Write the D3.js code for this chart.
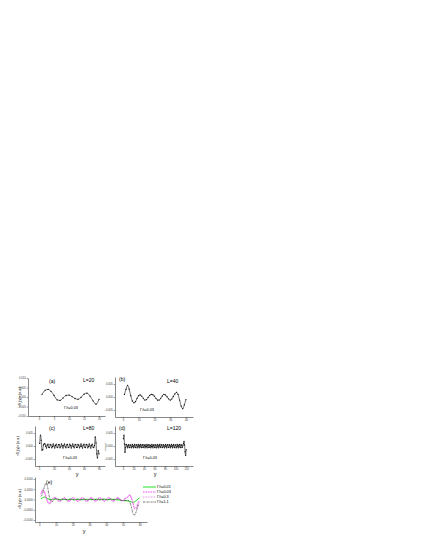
<!DOCTYPE html>
<html>
<head>
<meta charset="utf-8">
<script src="https://cdn.jsdelivr.net/npm/d3@7"></script>
<style>
  body { margin: 0; background: #fff; }
  svg { display: block; font-family: "Liberation Sans", Arial, sans-serif; }
</style>
</head>
<body>
<svg width="436" height="545"></svg>
<script>
// sites across the strip width, one array per strip width L
const sitesA = d3.range(1, 21);
const sitesB = d3.range(1, 41);
const sitesC = d3.range(1, 81);
const sitesD = d3.range(1, 121);
const sitesE = d3.range(1, 61);

// <S_z(y)>
const valuesA = [0.0014, 0.0035, 0.004, 0.003, 0.0008, -0.0015, -0.0018, -0.0005, 0.0008, 0.001,
  0.0002, -0.0008, -0.0012, -0.0002, 0.0015, 0.002, 0.0005, -0.002, -0.0038, -0.0012];

const valuesB = [0.001, 0.003, 0.0045, 0.003, 0.0005, -0.0015, -0.0022, -0.0018, -0.0005, 0.0005,
  0.0008, 0.0003, -0.0005, -0.0012, -0.001, -0.0002, 0.0006, 0.001, 0.0009, 0.0003,
  -0.0005, -0.0012, -0.0012, -0.0005, 0.0004, 0.001, 0.0008, 0.0001, -0.0007, -0.0012,
  -0.0008, 0.0002, 0.0012, 0.0018, 0.001, -0.0012, -0.0035, -0.0045, -0.003, -0.001];

const valuesC = [0.001, 0.0042, 0.0022, -0.0016, -0.0014, 0.0004, 0.0009,
  0.0008, -0.0001, -0.0008, 0.0003, 0.0007, -0.0005, -0.0006, 0.0006, 0.0004, -0.0007,
  -0.0002, 0.0008, 0, -0.0008, 0.0002, 0.0007, -0.0004, -0.0006, 0.0005, 0.0005,
  -0.0007, -0.0003, 0.0008, 0.0001, -0.0008, 0.0001, 0.0008, -0.0003, -0.0007, 0.0004,
  0.0006, -0.0006, -0.0004, 0.0007, 0.0002, -0.0008, 0, 0.0008, -0.0002, -0.0007,
  0.0004, 0.0006, -0.0005, -0.0005, 0.0006, 0.0003, -0.0007, -0.0001, 0.0008, -0.0001,
  -0.0008, 0.0003, 0.0007, -0.0004, -0.0006, 0.0006, 0.0004, -0.0007, -0.0002, 0.0008,
  0, -0.0008, 0.0002, 0.0007, -0.0004, -0.0006,
  0.0002, 0.0035, 0.0012, -0.003, -0.0046, -0.0018, -0.003];

const valuesD = [0.0028, 0.0042, 0.0008, -0.0024, -0.0006, 0.0006,
  0.0005, -0.0002, -0.0007, 0.0002, 0.0005, -0.0005, -0.0006, 0.0004, 0.0003, -0.0007,
  -0.0003, 0.0006, -0.0001, -0.0007, 0.0001, 0.0006, -0.0004, -0.0006, 0.0004, 0.0004,
  -0.0007, -0.0003, 0.0006, 0, -0.0007, 0.0001, 0.0006, -0.0003, -0.0006, 0.0003,
  0.0005, -0.0006, -0.0004, 0.0005, 0.0001, -0.0007, -0.0001, 0.0006, -0.0002, -0.0007,
  0.0003, 0.0005, -0.0005, -0.0005, 0.0004, 0.0002, -0.0007, -0.0002, 0.0006, -0.0001,
  -0.0007, 0.0002, 0.0005, -0.0004, -0.0006, 0.0004, 0.0003, -0.0007, -0.0003, 0.0006,
  0, -0.0007, 0.0001, 0.0006, -0.0003, -0.0006, 0.0004, 0.0004, -0.0006, -0.0004,
  0.0005, 0.0001, -0.0007, -0.0001, 0.0006, -0.0002, -0.0007, 0.0003, 0.0005, -0.0005,
  -0.0005, 0.0005, 0.0002, -0.0007, -0.0002, 0.0006, -0.0001, -0.0007, 0.0002, 0.0006,
  -0.0004, -0.0006, 0.0004, 0.0003, -0.0007, -0.0003, 0.0006, 0, -0.0007, 0.0001,
  0.0006, -0.0003, -0.0006, 0.0004, 0.0004, -0.0006, -0.0004,
  0.0003, 0.001, 0.0018, 0.0004, -0.0022, -0.0036, -0.0014];

// panel (e): four disorder strengths, L = 60
const seriesNames = ["Γ/t=0.01", "Γ/t=0.03", "Γ/t=0.3", "Γ/t=1.1"];

const valuesE001 = [0.0004, 0.0009, 0.0012, 0.0009, 0.0004, 0.0001, 0, 0.0001, 0.0002, 0.0001,
  -0.0001, -0.0001, 0.0001, 0.0001, 0, -0.0001, 0, 0.0001, 0.0001, 0,
  -0.0001, 0, 0.0001, 0.0001, 0, -0.0001, 0, 0.0001, 0.0001, 0,
  -0.0001, 0, 0.0001, 0.0001, 0, -0.0001, 0, 0.0001, 0.0001, 0,
  -0.0001, 0, 0.0001, 0.0001, 0, -0.0001, -0.0002, -0.0003, -0.0004, -0.0005,
  -0.0005, -0.0006, -0.0007, -0.0009, -0.0012, -0.0014, -0.0011, -0.0005, 0.0002, 0.0008];

const valuesE003 = [0.0025, 0.0046, 0.004, 0.0014, -0.001, -0.0018, -0.0009, 0.0004, 0.001, 0.0007,
  -0.0003, -0.0009, -0.0004, 0.0006, 0.0009, 0.0002, -0.0007, -0.0008, 0.0001, 0.0009,
  0.0006, -0.0004, -0.0009, -0.0003, 0.0007, 0.0008, -0.0001, -0.0009, -0.0006, 0.0004,
  0.0009, 0.0003, -0.0007, -0.0008, 0.0001, 0.0009, 0.0005, -0.0005, -0.0009, -0.0002,
  0.0008, 0.0007, -0.0002, -0.0009, -0.0005, 0.0005, 0.0009, 0.0002, -0.0006, -0.0006,
  0.0002, 0.0008, 0.0012, 0.0021, 0.0008, -0.002, -0.0046, -0.0042, -0.0022, -0.001];

const valuesE03 = [0.003, 0.0048, 0.0034, 0.0008, -0.0013, -0.0022, -0.0012, 0.0002, 0.0009, 0.0006,
  -0.0002, -0.0008, -0.0005, 0.0004, 0.0008, 0.0003, -0.0006, -0.0008, 0, 0.0008,
  0.0006, -0.0003, -0.0008, -0.0004, 0.0006, 0.0008, 0, -0.0008, -0.0006, 0.0003,
  0.0008, 0.0004, -0.0006, -0.0008, 0, 0.0008, 0.0005, -0.0004, -0.0008, -0.0002,
  0.0007, 0.0007, -0.0001, -0.0008, -0.0005, 0.0004, 0.0008, 0.0003, -0.0005, -0.0005,
  0.0003, 0.0009, 0.0014, 0.0024, 0.001, -0.0016, -0.004, -0.0039, -0.0016, -0.0006];

const valuesE11 = [0.0015, 0.003, 0.0062, 0.008, 0.0058, 0.0012, -0.001, -0.0009, 0.0001, 0.0005,
  0.0003, -0.0001, -0.0002, 0.0001, 0.0002, 0, -0.0002, 0.0001, 0.0002, -0.0001,
  -0.0002, 0.0001, 0.0002, 0, -0.0002, 0.0001, 0.0002, -0.0001, -0.0002, 0.0001,
  0.0002, 0, -0.0002, 0.0001, 0.0002, -0.0001, -0.0002, 0.0001, 0.0002, 0,
  -0.0002, 0.0001, 0.0002, -0.0001, -0.0001, 0.0002, 0.0003, 0.0001, -0.0004, -0.0006,
  -0.0006, -0.0005, -0.0004, -0.0012, -0.0035, -0.0068, -0.0076, -0.0058, -0.0032, -0.0024];

// tick labels
const ticksA = [0, 5, 10, 15, 20];
const ticksB = [0, 10, 20, 30, 40];
const ticksC = [0, 20, 40, 60, 80];
const ticksD = [0, 20, 40, 60, 80, 100, 120];
const ticksE = [0, 10, 20, 30, 40, 50, 60];
const yTicksA = [-0.01, -0.005, 0, 0.005, 0.01];
const yTicksBCD = [-0.005, 0, 0.005];
const yTicksE = [-0.01, -0.005, 0, 0.005, 0.01];

const svg = d3.select("svg");

function yTitle(xPos, yPos, size) {
  const t = svg.append("text")
    .attr("transform", `translate(${xPos},${yPos}) rotate(-90)`)
    .attr("text-anchor", "middle")
    .style("font-size", size + "px");
  t.append("tspan").text("<S");
  t.append("tspan").attr("dy", size * 0.3).style("font-size", (size * 0.7) + "px").text("z");
  t.append("tspan").attr("dy", -size * 0.3).text("(y)>  (a.u.)");
}

function drawPanel(p) {
  const x = d3.scaleLinear().domain(p.xDomain).range([p.left, p.right]);
  const y = d3.scaleLinear().domain(p.yDomain).range([p.bottom, p.top]);
  const g = svg.append("g");

  const xa = g.append("g")
    .attr("transform", `translate(0,${p.bottom})`)
    .call(d3.axisBottom(x).tickValues(p.xTicks).tickSize(1.3).tickPadding(1).tickSizeOuter(0));
  const ya = g.append("g")
    .attr("transform", `translate(${p.left},0)`)
    .call(d3.axisLeft(y).tickValues(p.yTicks).tickFormat(d3.format(p.fmt)).tickSize(1.3).tickPadding(1).tickSizeOuter(0));

  [xa, ya].forEach(a => {
    a.select(".domain").attr("stroke", "#222").attr("stroke-width", 0.55);
    a.selectAll(".tick line").attr("stroke", "#222").attr("stroke-width", 0.45);
    a.selectAll(".tick text").style("font-size", "2.7px").attr("fill", "#333");
  });

  const line = d3.line().x((d, i) => x(p.sites[i])).y(d => y(d)).curve(d3.curveMonotoneX);

  p.series.forEach(s => {
    g.append("path")
      .datum(s.values)
      .attr("fill", "none")
      .attr("stroke", s.color)
      .attr("stroke-width", s.width)
      .attr("stroke-dasharray", s.dash || null)
      .attr("d", line);
    if (s.dots) {
      g.selectAll(null)
        .data(s.values)
        .enter()
        .append("circle")
        .attr("cx", (d, i) => x(p.sites[i]))
        .attr("cy", d => y(d))
        .attr("r", 0.65)
        .attr("fill", "#111");
    }
  });

  g.append("text").attr("x", p.tag[0]).attr("y", p.tag[1])
    .style("font-size", "5px").text(p.tagText);
  if (p.lText) {
    g.append("text").attr("x", p.lPos[0]).attr("y", p.lPos[1])
      .style("font-size", "5px").text(p.lText);
  }
  if (p.gPos) {
    g.append("text").attr("x", p.gPos[0]).attr("y", p.gPos[1])
      .attr("text-anchor", "middle")
      .style("font-size", "3.8px").text("Γ/t=0.03");
  }
  if (p.xLabel) {
    g.append("text").attr("x", p.xLabel[0]).attr("y", p.xLabel[1])
      .attr("text-anchor", "middle")
      .style("font-size", "5.5px").text("y");
  }
}

const black = (vals) => [{ values: vals, color: "#111", width: 0.6, dots: true }];

drawPanel({
  sites: sitesA, xDomain: [-3.7, 22], yDomain: [-0.01, 0.01],
  left: 28, right: 105, top: 378, bottom: 416,
  xTicks: ticksA, yTicks: yTicksA, fmt: ".3f",
  series: black(valuesA),
  tag: [49, 383], tagText: "(a)", lText: "L=20", lPos: [83, 382],
  gPos: [71, 409]
});

drawPanel({
  sites: sitesB, xDomain: [-5, 44.5], yDomain: [-0.0077, 0.0077],
  left: 115, right: 193, top: 377, bottom: 417,
  xTicks: ticksB, yTicks: yTicksBCD, fmt: ".3f",
  series: black(valuesB),
  tag: [119, 381], tagText: "(b)", lText: "L=40", lPos: [167, 383],
  gPos: [147, 411]
});

drawPanel({
  sites: sitesC, xDomain: [-5.3, 88], yDomain: [-0.0077, 0.0077],
  left: 35, right: 105, top: 426, bottom: 466,
  xTicks: ticksC, yTicks: yTicksBCD, fmt: ".3f",
  series: black(valuesC),
  tag: [49, 430], tagText: "(c)", lText: "L=80", lPos: [83, 430],
  gPos: [70, 459], xLabel: [77, 476]
});

drawPanel({
  sites: sitesD, xDomain: [-15, 133], yDomain: [-0.0077, 0.0077],
  left: 115, right: 193, top: 426, bottom: 466,
  xTicks: ticksD, yTicks: yTicksBCD, fmt: ".3f",
  series: black(valuesD),
  tag: [119, 430], tagText: "(d)", lText: "L=120", lPos: [167, 430],
  gPos: [150, 459], xLabel: [155, 476]
});

drawPanel({
  sites: sitesE, xDomain: [-2.6, 64.4], yDomain: [-0.011, 0.011],
  left: 35, right: 147, top: 477, bottom: 522,
  xTicks: ticksE, yTicks: yTicksE, fmt: ".4f",
  series: [
    { values: valuesE001, color: "#22e022", width: 1 },
    { values: valuesE003, color: "#ff00ff", width: 0.7, dash: "1.6,0.9" },
    { values: valuesE03, color: "#e58ee5", width: 1.2, dash: "0.9,0.7" },
    { values: valuesE11, color: "#111", width: 0.55, dash: "2,0.6,0.6,0.6" }
  ],
  tag: [46, 484], tagText: "(e)",
  xLabel: [84, 533]
});

// legend of panel (e)
const legendStyles = [
  { color: "#22e022", width: 1, dash: null },
  { color: "#ff00ff", width: 0.7, dash: "1.6,0.9" },
  { color: "#e58ee5", width: 1.2, dash: "0.9,0.7" },
  { color: "#111", width: 0.55, dash: "2,0.6,0.6,0.6" }
];
const legend = svg.append("g").attr("transform", "translate(143,487)");
seriesNames.forEach((name, i) => {
  const st = legendStyles[i];
  legend.append("line")
    .attr("x1", 0).attr("x2", 13).attr("y1", i * 5).attr("y2", i * 5)
    .attr("stroke", st.color).attr("stroke-width", st.width)
    .attr("stroke-dasharray", st.dash);
  legend.append("text")
    .attr("x", 14).attr("y", i * 5 + 1.3)
    .style("font-size", "3.8px").text(name);
});

// y-axis titles
yTitle(21, 397, 3.4);
yTitle(19, 446, 3.4);
yTitle(21, 499, 3.4);
svg.append("text")
  .attr("transform", "translate(106,447) rotate(-90)")
  .attr("text-anchor", "middle")
  .style("font-size", "2.4px")
  .text("<Sz(y)>");
</script>
</body>
</html>
